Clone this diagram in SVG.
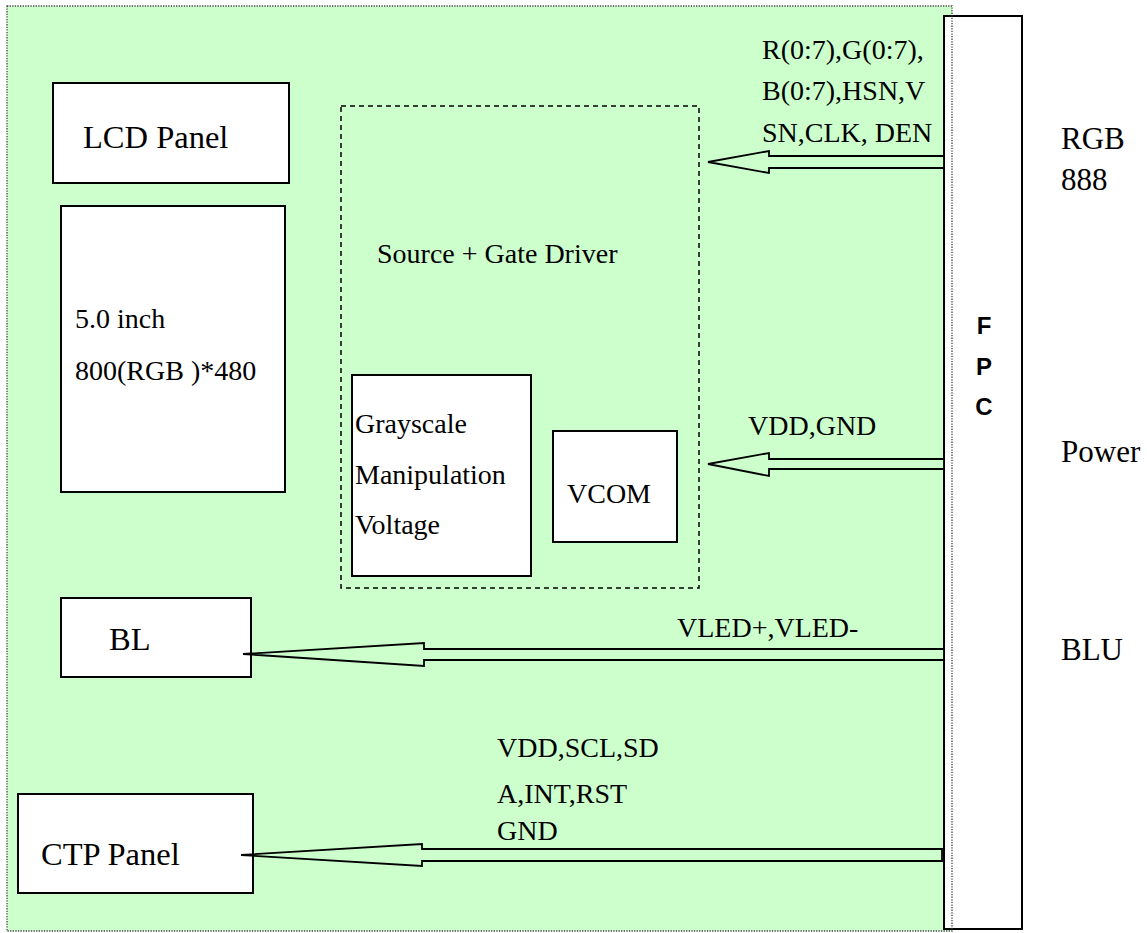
<svg xmlns="http://www.w3.org/2000/svg" width="1147" height="933" viewBox="0 0 1147 933">
<style>
text{font-family:'Liberation Serif',serif;font-size:28px;fill:#000}
.b{font-size:32.5px}
.r{font-size:31px}
.f{font-family:'Liberation Sans',sans-serif;font-size:24px;font-weight:bold}
.box{fill:#fff;stroke:#000;stroke-width:2}
.arr{fill:#ccffcc;stroke:#000;stroke-width:1.8;stroke-linejoin:miter}
</style>
<rect x="0" y="0" width="1147" height="933" fill="#fff"/>
<rect x="7" y="6" width="945" height="925" fill="#ccffcc"/>
<g id="fpc">
<rect class="box" x="944" y="16" width="78" height="913"/>
</g>
<rect id="frame" x="7" y="6" width="945" height="925" fill="none" stroke="#444" stroke-width="1.3" stroke-dasharray="1.3 1.3"/>
<g id="fpc-label">
<text class="f" x="984" y="334" text-anchor="middle">F</text>
<text class="f" x="984" y="375" text-anchor="middle">P</text>
<text class="f" x="984" y="415" text-anchor="middle">C</text>
</g>
<g id="lcd-panel">
<rect class="box" x="53" y="83" width="236" height="100"/>
<text class="b" x="83" y="148">LCD Panel</text>
</g>
<g id="lcd-spec">
<rect class="box" x="61" y="206" width="224" height="286"/>
<text x="75" y="328">5.0 inch</text>
<text x="75" y="380">800(RGB )*480</text>
</g>
<g id="driver">
<rect x="341" y="106" width="358" height="482" fill="none" stroke="#000" stroke-width="1.5" stroke-dasharray="5 4"/>
<text x="377" y="263">Source + Gate Driver</text>
</g>
<g id="grayscale">
<rect class="box" x="352" y="375" width="179" height="201"/>
<text x="355" y="433">Grayscale</text>
<text x="355" y="484">Manipulation</text>
<text x="355" y="534">Voltage</text>
</g>
<g id="vcom">
<rect class="box" x="553" y="431" width="124" height="111"/>
<text x="567" y="503">VCOM</text>
</g>
<g id="bl">
<rect class="box" x="61" y="598" width="190" height="79"/>
<text class="b" x="109" y="650">BL</text>
</g>
<g id="ctp">
<rect class="box" x="18" y="794" width="235" height="99"/>
<text class="b" x="41" y="865">CTP Panel</text>
</g>
<g id="connectors">
<polygon class="arr" points="944,156 769,156 769,151 708,162 769,173 769,168 944,168"/>
<polygon class="arr" points="944,459 769,459 769,453 708,464 769,476 769,469 944,469"/>
<polygon class="arr" points="944,649 424,649 424,643 243,654 424,666 424,660 944,660"/>
<polygon class="arr" points="942,849 422,849 422,844 241,855 422,866 422,861 942,861"/>
</g>
<g id="labels">
<text x="762" y="59">R(0:7),G(0:7),</text>
<text x="762" y="100">B(0:7),HSN,V</text>
<text x="762" y="142">SN,CLK, DEN</text>
<text x="748" y="435">VDD,GND</text>
<text x="677" y="637">VLED+,VLED-</text>
<text x="497" y="757">VDD,SCL,SD</text>
<text x="497" y="803">A,INT,RST</text>
<text x="497" y="840">GND</text>
<text class="r" x="1061" y="149">RGB</text>
<text class="r" x="1061" y="190">888</text>
<text class="r" x="1061" y="462">Power</text>
<text class="r" x="1061" y="660">BLU</text>
</g>
</svg>
